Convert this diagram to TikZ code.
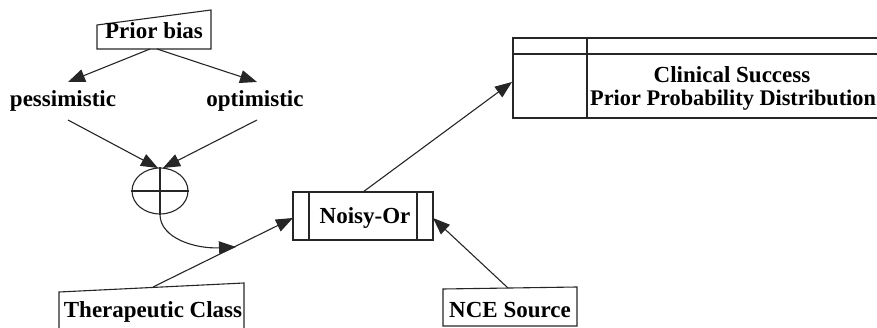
\documentclass[tikz,border=0pt]{standalone}
\usepackage{fontspec}
\setmainfont{Liberation Serif}
\usetikzlibrary{arrows.meta,shapes.geometric}
\begin{document}
\begin{tikzpicture}[x=1pt,y=-1pt,
  edge/.style={line width=1.1pt,draw=black!85},
  arr/.style={edge,-{Triangle[length=17pt,width=13pt]}},
  lbl/.style={font=\fontsize{23}{25}\selectfont\bfseries,inner sep=0pt,anchor=base},
  shapeline/.style={line width=1.1pt,draw=black!85}]
\useasboundingbox (0,0) rectangle (877,328);
% Prior bias box
\draw[shapeline] (97,25) -- (211,10) -- (211,49) -- (97,49) -- cycle;
\node[lbl] (prior) at (154,39) {Prior bias};
\coordinate (priorL) at (150,49);
\coordinate (priorR) at (157,49);
% pessimistic / optimistic
\node[lbl] (pess) at (63,107) {pessimistic};
\node[lbl] (opt) at (255,107) {optimistic};
\coordinate (pessIn) at (68,82);
\coordinate (optIn) at (257,82);
\coordinate (pessOut) at (68,120);
\coordinate (optOut) at (257,120);
% combination ellipse
\node[draw,shapeline,ellipse,minimum width=56pt,minimum height=46pt,inner sep=0pt] (comb) at (160,191) {};
\draw[shapeline] (comb.west) -- (comb.east);
\draw[shapeline] (comb.north) -- (comb.south);
\coordinate (combInL) at (158,168);
\coordinate (combInR) at (163,168);
% Noisy-Or
\node[draw,shapeline,minimum width=140pt,minimum height=48pt,inner sep=0pt] (noisy) at (363,216) {};
\draw[shapeline] (309,192) -- (309,240);
\draw[shapeline] (417,192) -- (417,240);
\node[lbl] (noisytxt) at (365,224) {Noisy-Or};
\coordinate (noisyL) at (293,218);
\coordinate (noisyR) at (433,218);
\coordinate (noisyT) at (363,192);
% Clinical success table
\draw[shapeline] (513,38) rectangle (900,118);
\draw[shapeline] (513,54) -- (900,54);
\draw[shapeline] (587,38) -- (587,118);
\node[lbl] (clin1) at (732,83) {Clinical Success};
\node[lbl,anchor=base west,font=\fontsize{22.3}{24}\selectfont\bfseries] (clin2) at (590,106) {Prior Probability Distribution};
\coordinate (clinIn) at (512,82);
% Therapeutic Class
\draw[shapeline] (59,335) -- (59,292) -- (244,283) -- (244,335);
\node[lbl] (thera) at (153,317) {Therapeutic Class};
\coordinate (theraT) at (153,287);
\coordinate (curveEnd) at (236,247);
% NCE Source
\draw[shapeline] (443,326) -- (443,289) -- (577,287) -- (577,326) -- cycle;
\node[lbl] (nce) at (510,317) {NCE Source};
\coordinate (nceT) at (508,288);
% connectors
\draw[arr] (priorL) -- (pessIn);
\draw[arr] (priorR) -- (optIn);
\draw[arr] (pessOut) -- (combInL);
\draw[arr] (optOut) -- (combInR);
\draw[arr] (comb.south) .. controls (160,238) and (195,249) .. (curveEnd);
\draw[arr] (theraT) -- (noisyL);
\draw[arr] (noisyT) -- (clinIn);
\draw[arr] (nceT) -- (noisyR);
\end{tikzpicture}
\end{document}
